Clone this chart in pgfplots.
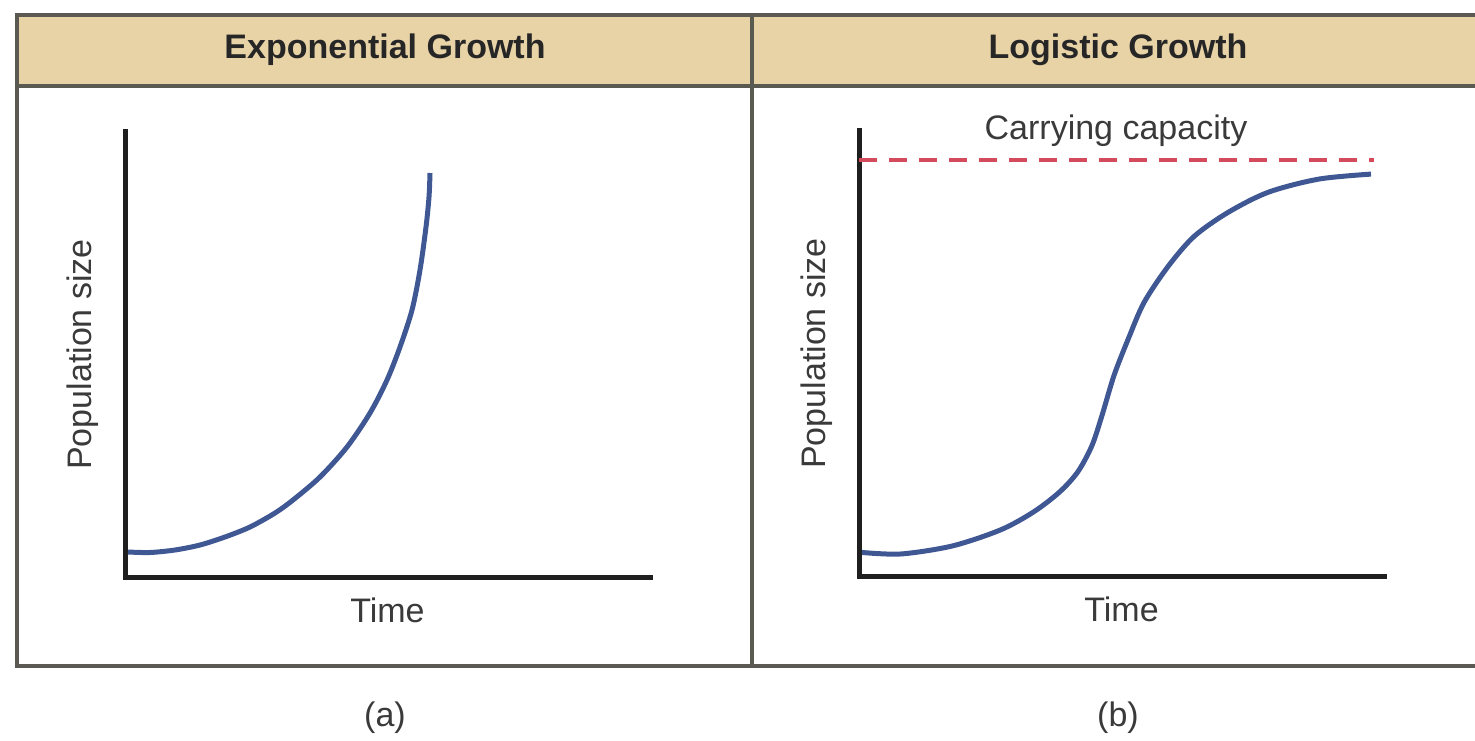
\documentclass[border=0pt]{standalone}
\usepackage{fontspec}
\setmainfont{Liberation Sans}
\usepackage{pgfplots}
\pgfplotsset{compat=1.18}
\definecolor{headtan}{HTML}{E8D3A7}
\definecolor{framegray}{HTML}{5B5A52}
\definecolor{curveblue}{HTML}{3F5894}
\definecolor{capred}{HTML}{D24A5C}
\definecolor{txt}{HTML}{3A3A3A}
\begin{document}
\begin{tikzpicture}[x=1pt,y=1pt]
\useasboundingbox (0,0) rectangle (737.5,370);
% header band and frame
\fill[headtan] (8.5,362.5) rectangle (745,327);
\draw[framegray, line width=2pt] (745,362.5) -- (8.5,362.5) -- (8.5,37) -- (745,37);
\draw[framegray, line width=2pt] (8.5,327) -- (745,327);
\draw[framegray, line width=2pt] (376,362.5) -- (376,37);
\node[font=\bfseries\fontsize{17}{20}\selectfont, text=black!85] at (192.5,345) {Exponential Growth};
\node[font=\bfseries\fontsize{17}{20}\selectfont, text=black!85] at (559,345) {Logistic Growth};
\node[font=\fontsize{17}{20}\selectfont, text=txt] at (192.5,11) {(a)};
\node[font=\fontsize{17}{20}\selectfont, text=txt] at (559,11) {(b)};
\pgfplotsset{growthaxis/.style={
  width=262.5pt, height=222.5pt, scale only axis,
  axis lines=left, axis line style={-, line width=2.5pt, color=black!88, line cap=rect},
  xtick=\empty, ytick=\empty, clip=false,
  xlabel={Time}, ylabel={Population size},
  label style={font=\fontsize{17}{20}\selectfont, text=txt},
  xlabel style={at={(axis description cs:0.5,-0.074)}, anchor=center},
  ylabel style={at={(axis description cs:-0.08,0.5)}, anchor=center},
}}
\begin{axis}[growthaxis, at={(62.5pt,81.5pt)}, anchor=south west,
  xmin=0, xmax=525, ymin=0, ymax=445]
\addplot[curveblue, line width=2.5pt, smooth] coordinates {
(3,25) (25,24.5) (50,27) (75,32) (100,40) (125,50) (150,64) (168,77) (195,100)
(222,130) (245,164) (262,197) (275,230) (287,267) (295,307) (301,350) (304,380) (305,404)};
\end{axis}
\begin{axis}[growthaxis, at={(429.5pt,82pt)}, anchor=south west,
  xmin=0, xmax=523, ymin=0, ymax=444]
\addplot[capred, line width=2pt, dash pattern=on 9pt off 6pt] coordinates {(0,415) (513,415)};
\addplot[curveblue, line width=2.5pt, smooth] coordinates {
(3,23.5) (42,22) (93,30) (141,46) (174,64) (200,84) (218,104) (232,130) (242,160)
(254,200) (268,236) (284,273) (308,309) (334,339) (368,363) (408,383) (458,396) (510,401)};
\node[font=\fontsize{17}{20}\selectfont, text=txt] at (axis cs:256,444) {Carrying capacity};
\end{axis}
\end{tikzpicture}
\end{document}
